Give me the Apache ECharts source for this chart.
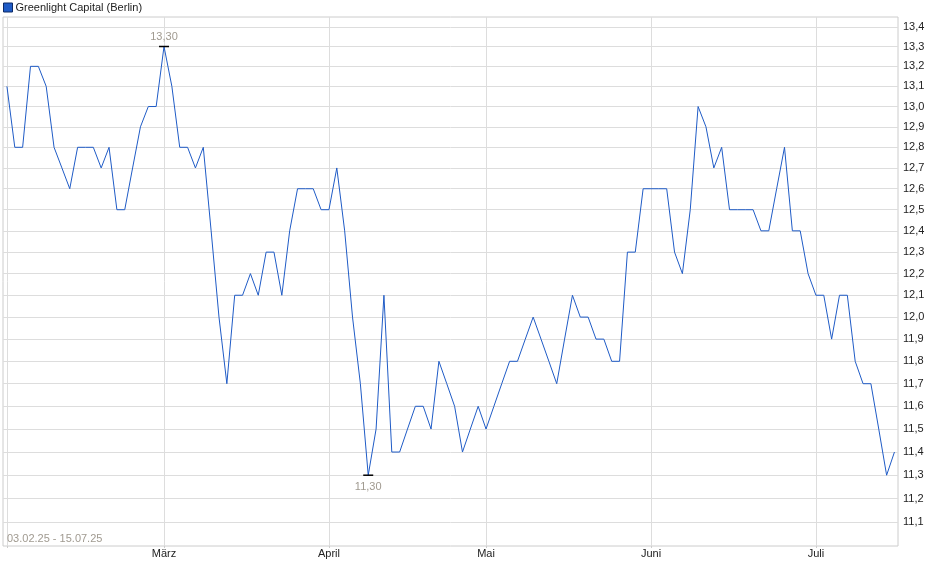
<!DOCTYPE html>
<html><head><meta charset="utf-8">
<script src="https://cdn.jsdelivr.net/npm/echarts@6/dist/echarts.min.js"></script>
<style>html,body{margin:0;padding:0;background:#fff}#c{width:940px;height:579px}</style>
</head><body><div id="c"></div>
<script>
const seriesName = 'Greenlight Capital (Berlin)';
const dateRange = '03.02.25 - 15.07.25';
const prices = [
  13.1, 12.8, 12.8, 13.2, 13.2, 13.1, 12.8, 12.7, 12.6, 12.8,
  12.8, 12.8, 12.7, 12.8, 12.5, 12.5, 12.7, 12.9, 13.0, 13.0,
  13.3, 13.1, 12.8, 12.8, 12.7, 12.8, 12.4, 12.0, 11.7, 12.1,
  12.1, 12.2, 12.1, 12.3, 12.3, 12.1, 12.4, 12.6, 12.6, 12.6,
  12.5, 12.5, 12.7, 12.4, 12.0, 11.7, 11.3, 11.5, 12.1, 11.4,
  11.4, 11.5, 11.6, 11.6, 11.5, 11.8, 11.7, 11.6, 11.4, 11.5,
  11.6, 11.5, 11.6, 11.7, 11.8, 11.8, 11.9, 12.0, 11.9, 11.8,
  11.7, 11.9, 12.1, 12.0, 12.0, 11.9, 11.9, 11.8, 11.8, 12.3,
  12.3, 12.6, 12.6, 12.6, 12.6, 12.3, 12.2, 12.5, 13.0, 12.9,
  12.7, 12.8, 12.5, 12.5, 12.5, 12.5, 12.4, 12.4, 12.6, 12.8,
  12.4, 12.4, 12.2, 12.1, 12.1, 11.9, 12.1, 12.1, 11.8, 11.7,
  11.7, 11.5, 11.3, 11.4
];
const monthTickIndex = [0, 20, 41, 61, 82, 103];
const monthTickLabel = ['', 'März', 'April', 'Mai', 'Juni', 'Juli'];
const yTicks = [11.1, 11.2, 11.3, 11.4, 11.5, 11.6, 11.7, 11.8, 11.9, 12.0, 12.1, 12.2, 12.3, 12.4, 12.5, 12.6, 12.7, 12.8, 12.9, 13.0, 13.1, 13.2, 13.3, 13.4];

const FONT = '"Liberation Sans", Arial, sans-serif';
const chart = echarts.init(document.getElementById('c'));
chart.setOption({
  animation: false,
  textStyle: { fontFamily: FONT },
  title: {
    text: dateRange, left: 7, top: 533, padding: 0,
    textStyle: { fontSize: 11, color: '#a09a90', fontWeight: 'normal', fontFamily: FONT }
  },
  legend: {
    data: [seriesName], left: 3, top: 2, padding: 0, icon: 'rect',
    itemWidth: 9, itemHeight: 9,
    itemStyle: { color: '#1f5bc6', borderColor: '#0d2a66', borderWidth: 1 },
    textStyle: { fontSize: 11, color: '#222', fontFamily: FONT, padding: [0, 0, 0, -2] }
  },
  grid: { left: 3, right: 42, top: 17, bottom: 33, show: true, borderColor: '#cccccc', borderWidth: 1, containLabel: false },
  xAxis: {
    type: 'value', min: -0.5, max: 113.45,
    axisLine: { show: false },
    axisTick: { show: true, length: 2, customValues: monthTickIndex, lineStyle: { color: '#cccccc' } },
    axisLabel: {
      customValues: monthTickIndex, margin: 2, fontSize: 11, color: '#222', fontFamily: FONT,
      formatter: v => monthTickLabel[monthTickIndex.indexOf(Math.round(v))] || ''
    },
    splitLine: { show: true, lineStyle: { color: '#dddddd', width: 1 } }
  },
  yAxis: {
    type: 'log', logBase: 10, position: 'right', min: 11.0, max: 13.45,
    axisLine: { show: false },
    axisTick: { show: false, customValues: yTicks },
    axisLabel: {
      customValues: yTicks, margin: 5, fontSize: 11, color: '#222', fontFamily: FONT,
      formatter: v => Number(v).toFixed(1).replace('.', ',')
    },
    splitLine: { show: true, lineStyle: { color: '#dddddd', width: 1 } }
  },
  series: [{
    name: seriesName, type: 'line',
    data: prices.map((v, i) => [i, v]),
    showSymbol: false, symbol: 'none',
    lineStyle: { color: '#1f5bc6', width: 1 },
    itemStyle: { color: '#1f5bc6' },
    markPoint: {
      symbol: 'rect', symbolSize: [10, 1.5],
      itemStyle: { color: '#000' },
      label: {
        show: true, fontSize: 11, color: '#a09a90', fontFamily: FONT, distance: 3,
        formatter: p => Number(p.value).toFixed(2).replace('.', ',')
      },
      data: [
        { type: 'max', label: { position: 'top', distance: 3 } },
        { type: 'min', label: { position: 'bottom', distance: 6 } }
      ]
    }
  }]
});
</script>
</body></html>
